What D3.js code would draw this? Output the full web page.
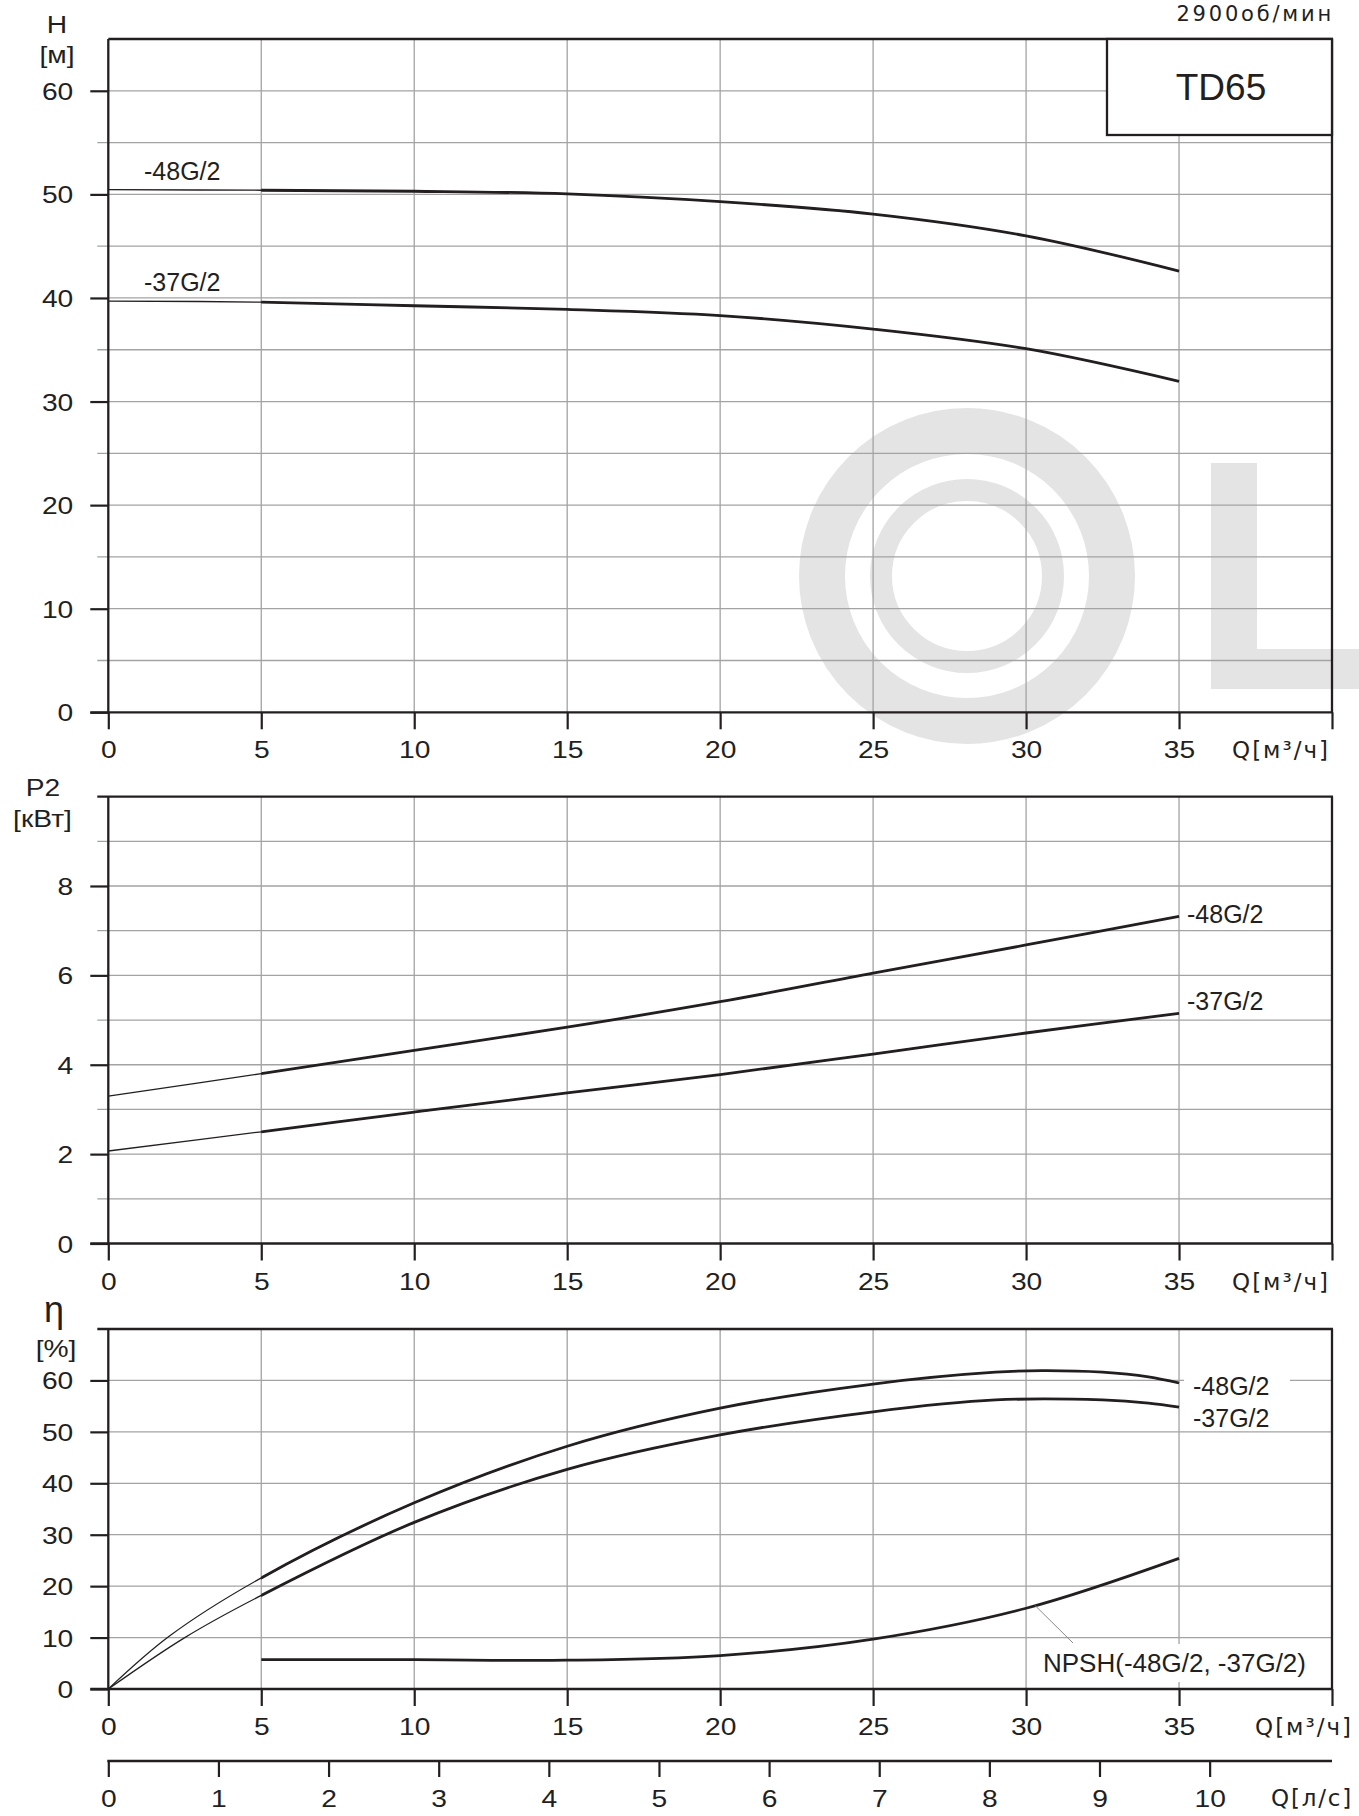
<!DOCTYPE html>
<html><head><meta charset="utf-8">
<script src="https://cdn.jsdelivr.net/npm/d3@7"></script>
<style>body{margin:0;background:#fff}svg{display:block}</style>
</head><body>
<script>
// ---------- data ----------
const flowTicks = [0,5,10,15,20,25,30,35,40];
const flowLsTicks = [0,1,2,3,4,5,6,7,8,9,10];
const headTicks = [0,10,20,30,40,50,60];
const headMinor = [5,15,25,35,45,55];
const powerTicks = [0,2,4,6,8];
const powerMinor = [1,3,5,7,9];
const effTicks = [0,10,20,30,40,50,60];

const flowH = [0,5,10,15,20,25,30,35];
const head48 = [50.45,50.4,50.3,50.05,49.3,48.1,46.0,42.6];
const head37 = [39.7,39.6,39.25,38.9,38.3,37.0,35.1,31.95];

const flowP = [0,5,10,15,20,25,30,35];
const power48 = [3.3,3.8,4.32,4.84,5.41,6.05,6.68,7.32];
const power37 = [2.07,2.5,2.94,3.37,3.78,4.24,4.71,5.15];

const flowE48 = [0,2,5,10,15,20,25,29,30.5,32.5,34,35];
const eff48 = [0,10.3,21.6,36.2,47.2,54.6,59.3,61.6,61.9,61.6,60.7,59.5];
const flowE37 = [0,2.5,5,10,15,20,25,29,32.5,34,35];
const eff37 = [0,10,18.2,32.4,42.7,49.4,53.9,56.2,56.2,55.6,54.8];

const flowN = [5,10,15,20,25,30,35];
const npsh = [5.7,5.7,5.6,6.5,9.7,15.7,25.4];

// ---------- setup ----------
const W = 1359, H = 1816;
const INK = "#231f20", GRID = "#a3a3a3", WM = "#e4e4e4";
const FONT = "'Liberation Sans', Arial, sans-serif";
const UFONT = "'DejaVu Sans', sans-serif";
const SX = 1.2; // horizontal stretch of axis label font

const svg = d3.select("body").append("svg").attr("width", W).attr("height", H)
  .style("font-family", FONT);

const X0 = 108.3, X1 = 1332;
const x = d3.scaleLinear().domain([0,40]).range([X0, X1]);
const xLs = d3.scaleLinear().domain([0,40/3.6]).range([X0, X1]);

// watermark
const wm = svg.append("g");
wm.append("circle").attr("cx",967).attr("cy",576).attr("r",145).attr("fill","none").attr("stroke",WM).attr("stroke-width",46);
wm.append("circle").attr("cx",967).attr("cy",576).attr("r",86).attr("fill","none").attr("stroke",WM).attr("stroke-width",22);
wm.append("rect").attr("x",1211).attr("y",463).attr("width",46).attr("height",226).attr("fill",WM);
wm.append("rect").attr("x",1211).attr("y",649).attr("width",160).attr("height",40).attr("fill",WM);

svg.append("defs").append("clipPath").attr("id","thick")
  .append("rect").attr("x", x(5)).attr("y",0).attr("width", W).attr("height", H);

function panel(opt) {
  const {top, bottom, domain, ticks, minor, topExt} = opt;
  const y = d3.scaleLinear().domain(domain).range([bottom, top]);
  const g = svg.append("g");
  g.selectAll(".vg").data(flowTicks.filter(d => d>0 && d<40)).join("line")
    .attr("x1", d=>x(d)).attr("x2", d=>x(d)).attr("y1", top).attr("y2", bottom)
    .attr("stroke", GRID).attr("stroke-width", 1.3);
  g.selectAll(".hg").data(ticks.filter(d=>d>0)).join("line")
    .attr("x1", X0).attr("x2", X1).attr("y1", d=>y(d)).attr("y2", d=>y(d))
    .attr("stroke", GRID).attr("stroke-width", 1.3);
  g.selectAll(".mg").data(minor).join("line")
    .attr("x1", X0-11).attr("x2", X1).attr("y1", d=>y(d)).attr("y2", d=>y(d))
    .attr("stroke", GRID).attr("stroke-width", 1.3);
  const ya = g.append("g").attr("transform", `translate(${X0},0)`)
    .call(d3.axisLeft(y).tickValues(ticks).tickSize(18).tickSizeOuter(0));
  ya.select(".domain").remove();
  ya.selectAll(".tick line").attr("stroke", INK).attr("stroke-width", 2.2);
  ya.selectAll(".tick text").attr("x", null).attr("dy", null)
    .attr("font-size", 23.5).attr("font-family", FONT).attr("fill", INK)
    .attr("text-anchor","end")
    .attr("transform", `translate(-35,8.5) scale(${SX},1)`);
  const xa = g.append("g").attr("transform", `translate(0,${bottom})`)
    .call(d3.axisBottom(x).tickValues(flowTicks).tickSize(17).tickSizeOuter(0)
      .tickFormat(d => d===40 ? "" : d));
  xa.select(".domain").remove();
  xa.selectAll(".tick line").attr("stroke", INK).attr("stroke-width", 2.2);
  xa.selectAll(".tick text").attr("y", null).attr("dy", null)
    .attr("font-size", 23.5).attr("font-family", FONT).attr("fill", INK)
    .attr("transform", `translate(0,46) scale(${SX},1)`);
  g.append("line").attr("x1", X0).attr("x2", X0).attr("y1", top).attr("y2", bottom+1).attr("stroke", INK).attr("stroke-width", 2.3);
  g.append("line").attr("x1", X0-18).attr("x2", X1+1).attr("y1", bottom).attr("y2", bottom).attr("stroke", INK).attr("stroke-width", 2.3);
  g.append("line").attr("x1", X0-topExt).attr("x2", X1+1).attr("y1", top).attr("y2", top).attr("stroke", INK).attr("stroke-width", 2.3);
  g.append("line").attr("x1", X1).attr("x2", X1).attr("y1", top).attr("y2", bottom).attr("stroke", INK).attr("stroke-width", 2.3);
  return {y, g};
}

function titleText(txt, cx, by, size, stretch) {
  svg.append("text").text(txt).attr("text-anchor","middle")
    .attr("font-size", size).attr("fill", INK)
    .attr("transform", `translate(${cx},${by}) scale(${stretch},1)`);
}
function unitText(txt, rx, by, size, ls) {
  svg.append("text").text(txt).attr("text-anchor","end").attr("x", rx).attr("y", by)
    .attr("font-size", size).attr("fill", INK).attr("font-family", UFONT)
    .attr("font-weight", 400).attr("letter-spacing", ls);
}
function label(txt, lx, by, size) {
  return svg.append("text").text(txt).attr("x", lx).attr("y", by)
    .attr("font-size", size).attr("fill", INK);
}

function curve(y, xs, ys, splitThin) {
  const line = d3.line().x((d,i)=>x(xs[i])).y(d=>y(d)).curve(d3.curveCatmullRom);
  if (splitThin) {
    svg.append("path").attr("d", line(ys)).attr("fill","none").attr("stroke", INK).attr("stroke-width", 1.3);
    svg.append("path").attr("d", line(ys)).attr("fill","none").attr("stroke", INK).attr("stroke-width", 2.8)
      .attr("clip-path","url(#thick)");
  } else {
    svg.append("path").attr("d", line(ys)).attr("fill","none").attr("stroke", INK).attr("stroke-width", 2.8);
  }
}

// ---------- H panel ----------
const pH = panel({top:39, bottom:712.3, domain:[0,65], ticks:headTicks, minor:headMinor, topExt:0});
curve(pH.y, flowH, head48, true);
curve(pH.y, flowH, head37, true);
label("-48G/2", 144, 180, 25);
label("-37G/2", 144, 291, 25);
titleText("H", 57, 33, 23.5, SX);
titleText("[м]", 57, 63, 23.5, SX);
unitText("Q[м³/ч]", 1330, 758, 23, 2);
svg.append("rect").attr("x",1107).attr("y",39).attr("width",X1-1107).attr("height",96)
  .attr("fill","#fff").attr("stroke",INK).attr("stroke-width",2.3);
svg.append("text").text("TD65").attr("x",1221).attr("y",100).attr("text-anchor","middle")
  .attr("font-size",37).attr("fill",INK);
unitText("2900об/мин", 1334, 21, 21, 2.8);

// ---------- P2 panel ----------
const pP = panel({top:796.6, bottom:1243.5, domain:[0,10], ticks:powerTicks, minor:powerMinor, topExt:11});
curve(pP.y, flowP, power48, true);
curve(pP.y, flowP, power37, true);
label("-48G/2", 1187, 923, 25);
label("-37G/2", 1187, 1010, 25);
titleText("P2", 43, 796, 23.5, SX);
titleText("[кВт]", 42.5, 827, 23.5, SX);
unitText("Q[м³/ч]", 1330, 1290, 23, 2);

// ---------- efficiency panel ----------
const pE = panel({top:1329, bottom:1689, domain:[0,70], ticks:effTicks, minor:[], topExt:11});
curve(pE.y, flowE48, eff48, true);
curve(pE.y, flowE37, eff37, true);
curve(pE.y, flowN, npsh, false);
svg.append("rect").attr("x",1184).attr("y",1370).attr("width",106).attr("height",30).attr("fill","#fff");
svg.append("rect").attr("x",1040).attr("y",1644).attr("width",278).attr("height",38).attr("fill","#fff");
label("-48G/2", 1193, 1395, 25);
label("-37G/2", 1193, 1427, 25);
svg.append("line").attr("x1", x(30.3)).attr("y1", pE.y(16.2)).attr("x2", 1073).attr("y2", 1643)
  .attr("stroke", "#8a8a8a").attr("stroke-width", 1);
label("NPSH(-48G/2, -37G/2)", 1043, 1672, 26);
titleText("η", 54, 1322, 36, 1);
titleText("[%]", 56, 1357, 23.5, SX);
unitText("Q[м³/ч]", 1353, 1735, 23, 2);

// ---------- l/s axis ----------
const la = svg.append("g").attr("transform", `translate(0,1761)`)
  .call(d3.axisBottom(xLs).tickValues(flowLsTicks).tickSize(16).tickSizeOuter(0));
la.select(".domain").remove();
la.selectAll(".tick line").attr("stroke", INK).attr("stroke-width", 2.2);
la.selectAll(".tick text").attr("y", null).attr("dy", null)
  .attr("font-size", 23.5).attr("font-family", FONT).attr("fill", INK)
  .attr("transform", `translate(0,46) scale(${SX},1)`);
svg.append("line").attr("x1", X0-1).attr("x2", X1).attr("y1", 1761).attr("y2", 1761).attr("stroke", INK).attr("stroke-width", 2.3);
unitText("Q[л/с]", 1353, 1806, 23, 1.8);
</script>
</body></html>
